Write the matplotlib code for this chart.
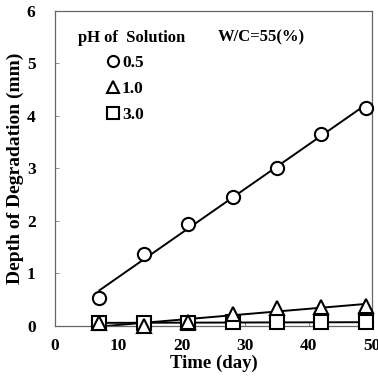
import numpy as np
import matplotlib.pyplot as plt
from matplotlib.lines import Line2D

plt.rcParams['font.family'] = ['Liberation Serif', 'DejaVu Serif']
plt.rcParams['font.weight'] = 'bold'

days = [7, 14, 21, 28, 35, 42, 49]
ph05 = [0.53, 1.38, 1.94, 2.46, 3.00, 3.65, 4.16]
ph10 = [0.05, 0.00, 0.07, 0.22, 0.34, 0.36, 0.39]
ph30 = [0.06, 0.06, 0.06, 0.07, 0.07, 0.07, 0.07]
labels = ['0.5', '1.0', '3.0']
markers = ['o', '^', 's']

fig = plt.figure(figsize=(3.78, 3.81), dpi=100)
ax = fig.add_axes([0.1455, 0.1444, 0.8386, 0.8268])

x = np.array(days)
for y, m in zip([ph30, ph10, ph05], ['s', '^', 'o']):
    k, b = np.polyfit(x, y, 1)
    ax.plot(x, k * x + b, color='black', lw=1.4, zorder=2)
    ax.plot(x, y, ls='none', marker=m, ms=9.5, mfc='white', mec='black',
            mew=1.5, zorder=3, clip_on=False)

ax.set_xlim(0, 50)
ax.set_ylim(0, 6)
ax.set_xticks([0, 10, 20, 30, 40, 50])
ax.set_yticks([0, 1, 2, 3, 4, 5, 6])
ax.tick_params(direction='in', length=3, width=0.6, color='#777777',
               labelsize=12.5, pad=9)
ax.tick_params(axis='y', pad=14)
for s in ax.spines.values():
    s.set_color('#666666')
    s.set_linewidth(0.9)

ax.set_xlabel('Time (day)', fontsize=13.5, fontweight='bold', labelpad=0)
ax.set_ylabel('Depth of Degradation (mm)', fontsize=14, fontweight='bold', labelpad=2)

ax.text(0.073, 0.915, 'pH of  Solution', transform=ax.transAxes, fontsize=12,
        fontweight='bold', va='center', ha='left')
ax.text(0.515, 0.915, 'W/C=55(%)', transform=ax.transAxes, fontsize=12,
        fontweight='bold', va='center', ha='left')

handles = [Line2D([], [], ls='none', marker=m, ms=8, mfc='white', mec='black', mew=1.5)
           for m in markers]
ax.legend(handles, labels, loc='upper left', bbox_to_anchor=(0.165, 0.86),
          frameon=False, fontsize=12.5, handlelength=0.6, handletextpad=0.25,
          labelspacing=0.55, borderpad=0, borderaxespad=0)

fig.savefig('out.png', dpi=100)
